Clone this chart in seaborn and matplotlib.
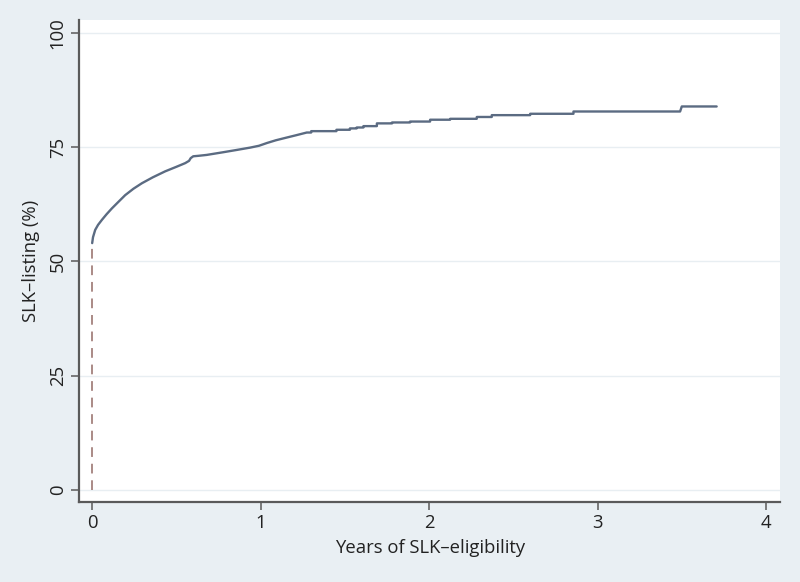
import matplotlib
matplotlib.use("Agg")
import matplotlib.pyplot as plt
import seaborn as sns
import numpy as np
import pandas as pd

# cumulative SLK-listing curve
# early part: many tiny steps -> looks smooth; later part: visible steps (pairs)
years = [0.0, 0.005, 0.018, 0.035, 0.058, 0.085, 0.117, 0.155, 0.196, 0.245,
         0.295, 0.36, 0.433, 0.50, 0.552, 0.575, 0.585, 0.60, 0.63, 0.68,
         0.73, 0.78, 0.86, 0.938, 0.99, 1.037, 1.09, 1.155, 1.21, 1.274,
         1.30, 1.30, 1.45, 1.45, 1.53, 1.53, 1.57, 1.57, 1.61, 1.61,
         1.69, 1.69, 1.78, 1.78, 1.887, 1.887, 2.006, 2.006, 2.125, 2.125,
         2.283, 2.283, 2.372, 2.372, 2.6, 2.6, 2.857, 2.857, 3.49, 3.50,
         3.707]
listing_pct = [54.0, 55.3, 56.9, 58.0, 59.1, 60.3, 61.6, 63.0, 64.5, 65.9,
               67.1, 68.4, 69.7, 70.7, 71.5, 72.0, 72.6, 73.0, 73.1, 73.3,
               73.6, 73.9, 74.4, 74.9, 75.3, 75.9, 76.5, 77.1, 77.6, 78.2,
               78.2, 78.5, 78.5, 78.8, 78.8, 79.1, 79.1, 79.3, 79.3, 79.6,
               79.6, 80.2, 80.2, 80.4, 80.4, 80.6, 80.6, 81.0, 81.0, 81.2,
               81.2, 81.6, 81.6, 82.0, 82.0, 82.3, 82.3, 82.8, 82.8, 83.9,
               83.9]

df = pd.DataFrame({"years": years, "pct": listing_pct})

bg = "#e9eff3"
sns.set_style("white")
plt.rcParams["font.family"] = ["Open Sans", "DejaVu Sans"]

fig = plt.figure(figsize=(8, 5.82), dpi=100, facecolor=bg)
ax = fig.add_axes([0.099, 0.1375, 0.876, 0.828])
ax.set_facecolor("white")

# grid lines
for y in [0, 25, 50, 75, 100]:
    ax.axhline(y, color="#e8eef2", lw=1.0, zorder=0)

# dashed drop line at t=0 up to start of curve
ax.plot([0, 0], [0, listing_pct[0]], color="#aa8a86", lw=1.4,
        linestyle=(0, (5, 3.5)), zorder=2)

sns.lineplot(data=df, x="years", y="pct", ax=ax, color="#5b6b82",
             lw=1.7, estimator=None, sort=False, zorder=3)

ax.set_xlim(-0.077, 4.083)
ax.set_ylim(-2.63, 102.8)
ax.set_xticks([0, 1, 2, 3, 4])
ax.set_yticks([0, 25, 50, 75, 100])
ax.set_yticklabels(["0", "25", "50", "75", "100"], rotation=90, va="center")

for s in ["top", "right"]:
    ax.spines[s].set_visible(False)
for s in ["left", "bottom"]:
    ax.spines[s].set_color("#5a5a5a")
    ax.spines[s].set_linewidth(1.6)

ax.tick_params(axis="both", direction="out", length=6, width=1.1,
               color="#5a5a5a", labelsize=13.3, labelcolor="#222222", pad=3)
ax.tick_params(left=True, bottom=True)

ax.set_xlabel("Years of SLK\u2013eligibility", fontsize=13.3, color="#222222", labelpad=5)
ax.set_ylabel("SLK\u2013listing (%)", fontsize=13.3, color="#222222", labelpad=6)

fig.savefig("out.png", dpi=100, facecolor=bg)
